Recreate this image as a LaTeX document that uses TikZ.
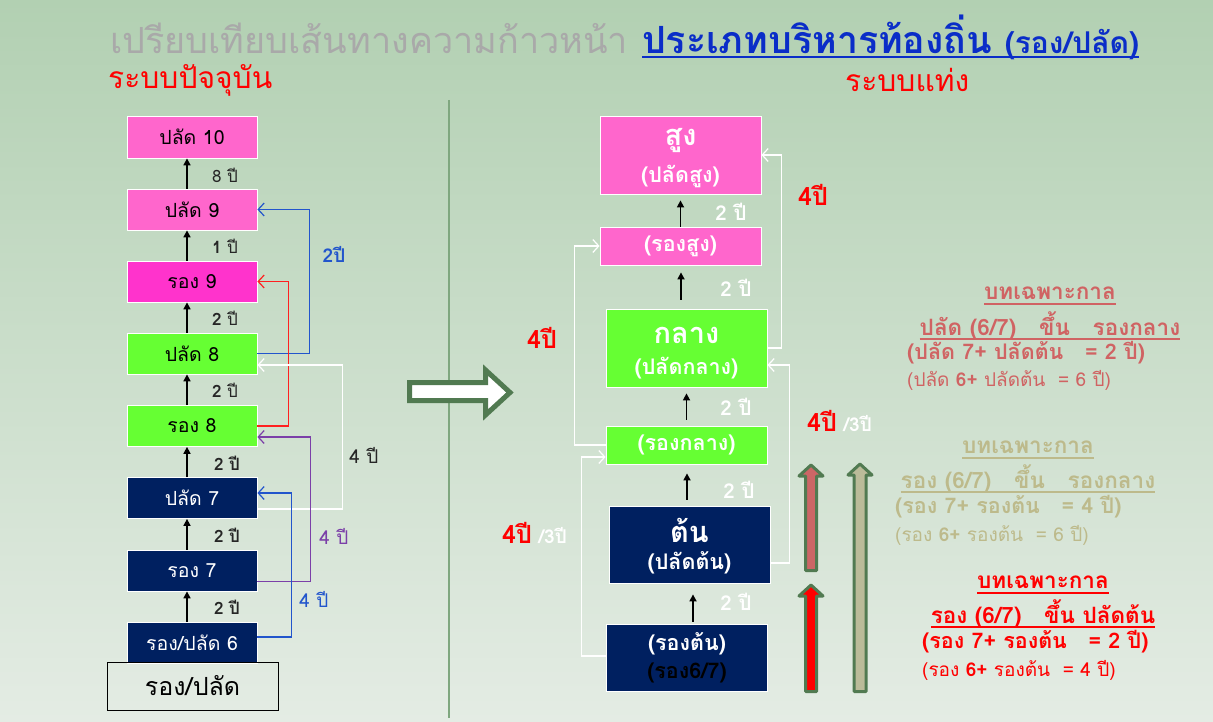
\documentclass[tikz,border=0pt]{standalone}
\usepackage{fontspec}
\setmainfont{Loma}[Script=Thai]
\usetikzlibrary{arrows.meta}
\definecolor{bgtop}{HTML}{B2D0B2}
\definecolor{bgbot}{HTML}{E4ECE4}
\definecolor{pinkA}{HTML}{FF66CC}
\definecolor{magA}{HTML}{FF33CC}
\definecolor{grnA}{HTML}{66FF33}
\definecolor{navyA}{HTML}{002060}
\definecolor{dkgrn}{HTML}{517A51}
\definecolor{divgrn}{HTML}{7FA77F}
\definecolor{salmon}{HTML}{D06363}
\definecolor{khaki}{HTML}{BDBA8B}
\definecolor{khakifill}{HTML}{BBBB99}
\definecolor{rosefill}{HTML}{CC6666}
\definecolor{titleblue}{HTML}{0A2DC8}
\definecolor{lblue}{HTML}{2255CC}
\definecolor{purp}{HTML}{7B3FA8}
\definecolor{titlegrey}{HTML}{A9A9A9}
\definecolor{redA}{HTML}{FF2020}
\newcommand{\myul}[1]{\setbox0\hbox{#1}\rlap{\rule[-5pt]{\wd0}{2pt}}\box0}
\begin{document}
\begin{tikzpicture}[x=1pt,y=-1pt,
  lbox/.style={draw=white, line width=0.8pt, minimum width=130pt, minimum height=41pt, inner sep=0pt, font=\fontsize{19.5}{22}\selectfont},
  rbox/.style={draw=white, line width=0.8pt, minimum width=161pt, inner sep=0pt, text=white, font=\bfseries\fontsize{21.5}{23}\selectfont},
  big/.style={text=white, inner sep=0pt, font=\bfseries\fontsize{29}{31}\selectfont},
  small/.style={text=white, inner sep=0pt, font=\bfseries\fontsize{21.5}{23}\selectfont},
  blk/.style={-{Triangle[length=7pt,width=7pt]}, line width=1.6pt, black},
  conn/.style={-{Straight Barb[length=6pt,width=13pt]}, line width=1.2pt},
  lbl/.style={inner sep=0pt, font=\fontsize{17}{19}\selectfont, text=black!85},
  clbl/.style={inner sep=0pt, font=\fontsize{19}{21}\selectfont, text=black!85},
  wlbl/.style={inner sep=0pt, font=\bfseries\fontsize{20.5}{22}\selectfont, text=white},
  rlbl/.style={inner sep=0pt, font=\bfseries\fontsize{25}{27}\selectfont, text=red},
  fat/.style={draw=dkgrn, line width=3pt, line join=round},
  txta/.style={inner sep=0pt, font=\bfseries\fontsize{22.5}{24}\selectfont},
  txtb/.style={inner sep=0pt, font=\bfseries\fontsize{21.5}{23}\selectfont},
  txtn/.style={inner sep=0pt, font=\fontsize{19}{21}\selectfont}
]
\shade[top color=bgtop, bottom color=bgbot] (0,0) rectangle (1213,722);
\path[use as bounding box] (0,0) rectangle (1213,722);

% title and headers
\node[anchor=west, inner sep=0pt] (title) at (110,37)
  {\textcolor{titlegrey}{\fontsize{36}{38}\selectfont เปรียบเทียบเส้นทางความก้าวหน้า}\hspace{14pt}\textcolor{titleblue}{\bfseries\myul{\fontsize{37.5}{39}\selectfont ประเภทบริหารท้องถิ่น {\fontsize{30}{32}\selectfont(รอง/ปลัด)}}}};
\node[anchor=west, inner sep=0pt, text=red, font=\fontsize{30}{32}\selectfont] (hl) at (108,80) {ระบบปัจจุบัน};
\node[anchor=west, inner sep=0pt, text=red, font=\fontsize{30}{32}\selectfont] (hr) at (845,80) {ระบบแท่ง};

% divider and big arrow
\draw[divgrn, line width=1.5pt] (449,100) -- (449,718);
\draw[line width=5pt, draw=dkgrn, fill=white, line join=miter]
  (409.5,382.5) -- (485.5,382.5) -- (485.5,370) -- (510,392.5) -- (485.5,415) -- (485.5,400.5) -- (409.5,400.5) -- cycle;

% left column
\node[lbox, fill=pinkA, minimum height=42pt] (p10) at (192,137) {ปลัด 10};
\node[lbox, fill=pinkA] (p9) at (192,209.5) {ปลัด 9};
\node[lbox, fill=magA] (r9) at (192,281.5) {รอง 9};
\node[lbox, fill=grnA] (p8) at (192,353.5) {ปลัด 8};
\node[lbox, fill=grnA] (r8) at (192,426) {รอง 8};
\node[lbox, fill=navyA, text=white] (p7) at (192,498) {ปลัด 7};
\node[lbox, fill=navyA, text=white] (r7) at (192,570.5) {รอง 7};
\node[lbox, fill=navyA, text=white] (rp6) at (192,642.5) {รอง/ปลัด 6};
\node[draw=black, line width=0.8pt, minimum width=171pt, minimum height=48pt, inner sep=0pt, font=\fontsize{25}{27}\selectfont] (rp) at (192.5,686) {รอง/ปลัด};

\draw[blk] ([xshift=-5pt]p9.north) -- ([xshift=-5pt]p10.south);
\draw[blk] ([xshift=-5pt]r9.north) -- ([xshift=-5pt]p9.south);
\draw[blk] ([xshift=-5pt]p8.north) -- ([xshift=-5pt]r9.south);
\draw[blk] ([xshift=-5pt]r8.north) -- ([xshift=-5pt]p8.south);
\draw[blk] ([xshift=-5pt]p7.north) -- ([xshift=-5pt]r8.south);
\draw[blk] ([xshift=-5pt]r7.north) -- ([xshift=-5pt]p7.south);
\draw[blk] ([xshift=-5pt]rp6.north) -- ([xshift=-5pt]r7.south);

\node[lbl] (l1) at (225,175) {8 ปี};
\node[lbl] (l2) at (225,246) {\textbf{1} ปี};
\node[lbl] (l3) at (225,318) {\textbf{2} ปี};
\node[lbl] (l4) at (225,390) {\textbf{2} ปี};
\node[lbl] (l5) at (227,463) {\textbf{2 ปี}};
\node[lbl] (l6) at (227,535) {\textbf{2 ปี}};
\node[lbl] (l7) at (227,607) {\textbf{2 ปี}};

\draw[conn, lblue] (p8.east) -- ++(52,0) |- (p9.east);
\draw[conn, redA] (r8.east) -- ++(31,0) |- (r9.east);
\draw[conn, white] ([yshift=-11pt]p7.east) -- ++(85,0) |- ([yshift=-11.5pt]p8.east);
\draw[conn, purp] ([yshift=-11pt]r7.east) -- ++(53,0) |- ([yshift=-11pt]r8.east);
\draw[conn, lblue] ([yshift=5.5pt]rp6.east) -- ++(34,0) |- ([yshift=5pt]p7.east);

\node[inner sep=0pt, text=lblue, font=\bfseries\fontsize{19}{21}\selectfont] (c1) at (334,254) {2ปี};
\node[clbl] (c2) at (364,455) {4 ปี};
\node[clbl, text=purp] (c3) at (334,536) {4 ปี};
\node[clbl, text=lblue] (c4) at (314,599) {4 ปี};

% right column boxes
\node[rbox, fill=pinkA, minimum height=78pt] (su) at (680.5,155) {};
\node[big] (su1) at (680.5,141) {สูง};
\node[small] (su2) at (680.5,176) {(ปลัดสูง)};
\node[rbox, fill=pinkA, minimum height=38pt] (rsu) at (680.5,246) {(รองสูง)};
\node[rbox, fill=grnA, minimum height=78pt] (kl) at (686.5,348) {};
\node[big] (kl1) at (686.5,335) {กลาง};
\node[small] (kl2) at (686.5,368) {(ปลัดกลาง)};
\node[rbox, fill=grnA, minimum height=38pt] (rkl) at (686.5,445) {(รองกลาง)};
\node[rbox, fill=navyA, minimum height=77pt] (ton) at (689.5,544.5) {};
\node[big] (ton1) at (689.5,530) {ต้น};
\node[small] (ton2) at (689.5,563) {(ปลัดต้น)};
\node[rbox, fill=navyA, minimum height=67pt] (rton) at (687,657.5) {};
\node[small] (rton1) at (687,644) {(รองต้น)};
\node[small, text=black] (rton2) at (687,673) {(รอง6/7)};

\draw[blk, shorten >=6pt] (rsu.north) -- (su.south);
\draw[blk, shorten <=9pt, shorten >=7pt] ([xshift=-5.5pt]kl.north) -- ([xshift=0.5pt]rsu.south);
\draw[blk, shorten <=6pt, shorten >=6pt] (rkl.north) -- (kl.south);
\draw[blk, shorten <=6pt, shorten >=9pt] ([xshift=-2.5pt]ton.north) -- ([xshift=0.5pt]rkl.south);
\draw[blk, shorten <=2pt, shorten >=11pt] ([xshift=6pt]rton.north) -- ([xshift=3.5pt]ton.south);

\node[wlbl] (w1) at (731,212) {2 ปี};
\node[wlbl] (w2) at (736,288) {2 ปี};
\node[wlbl] (w3) at (736,407) {2 ปี};
\node[wlbl] (w4) at (739,490) {2 ปี};
\node[wlbl] (w5) at (736,602) {2 ปี};

\draw[conn, white] (kl.east) -- ++(14,0) |- (su.east);
\draw[conn, white] (rkl.west) -- ++(-31,0) |- (rsu.west);
\draw[conn, white] ([yshift=-18.5pt]ton.east) -- ++(19,0) |- ([yshift=-17pt]kl.east);
\draw[conn, white] ([yshift=1.5pt]rton.west) -- ++(-25,0) |- ([yshift=-12pt]rkl.west);

\node[rlbl] (f1) at (813,195) {4ปี};
\node[rlbl] (f2) at (542,338) {4ปี};
\node[anchor=west, inner sep=0pt] (f3) at (807,421) {\textcolor{red}{\bfseries\fontsize{25}{27}\selectfont 4ปี}\ \ \textcolor{white}{\bfseries\fontsize{19}{21}\selectfont /3ปี}};
\node[anchor=west, inner sep=0pt] (f4) at (502,533) {\textcolor{red}{\bfseries\fontsize{25}{27}\selectfont 4ปี}\ \ \textcolor{white}{\bfseries\fontsize{19}{21}\selectfont /3ปี}};

% fat arrows
\draw[fat, fill=rosefill] (805.5,570.5) -- (805.5,476) -- (799,476) -- (811,465) -- (823,476) -- (816.5,476) -- (816.5,570.5) -- cycle;
\draw[fat, fill=red] (805.5,691.5) -- (805.5,596) -- (799,596) -- (811,585) -- (823,596) -- (816.5,596) -- (816.5,691.5) -- cycle;
\draw[fat, fill=khakifill] (854,691.5) -- (854,475) -- (848,475) -- (860,464) -- (872,475) -- (866,475) -- (866,691.5) -- cycle;

% right notes
\node[txta, text=salmon] (n1a) at (1050,296) {\myul{บทเฉพาะกาล}};
\node[txta, text=salmon] (n1b) at (1050,326) {\myul{ปลัด (6/7)\ \ \ ขึ้น\ \ \ รองกลาง}};
\node[txtb, text=salmon, anchor=west] (n1c) at (907,353) {(ปลัด 7+ ปลัดต้น\ \ \ = 2 ปี)};
\node[txtn, text=salmon, anchor=west] (n1d) at (907,380) {(ปลัด \textbf{6+} ปลัดต้น\ \ = 6 ปี)};

\node[txta, text=khaki] (n2a) at (1028,450) {\myul{บทเฉพาะกาล}};
\node[txta, text=khaki] (n2b) at (1028,479) {\myul{รอง (6/7)\ \ \ ขึ้น\ \ \ รองกลาง}};
\node[txtb, text=khaki, anchor=west] (n2c) at (895,507) {(รอง 7+ รองต้น\ \ \ = 4 ปี)};
\node[txtn, text=khaki, anchor=west] (n2d) at (895,535) {(รอง \textbf{6+} รองต้น\ \ = 6 ปี)};

\node[txta, text=red] (n3a) at (1043,585) {\myul{บทเฉพาะกาล}};
\node[txta, text=red] (n3b) at (1043,614) {\myul{รอง (6/7)\ \ \ ขึ้น ปลัดต้น}};
\node[txtb, text=red, anchor=west] (n3c) at (922,642) {(รอง 7+ รองต้น\ \ \ = 2 ปี)};
\node[txtn, text=red, anchor=west] (n3d) at (922,670) {(รอง \textbf{6+} รองต้น\ \ = 4 ปี)};
\end{tikzpicture}
\end{document}
